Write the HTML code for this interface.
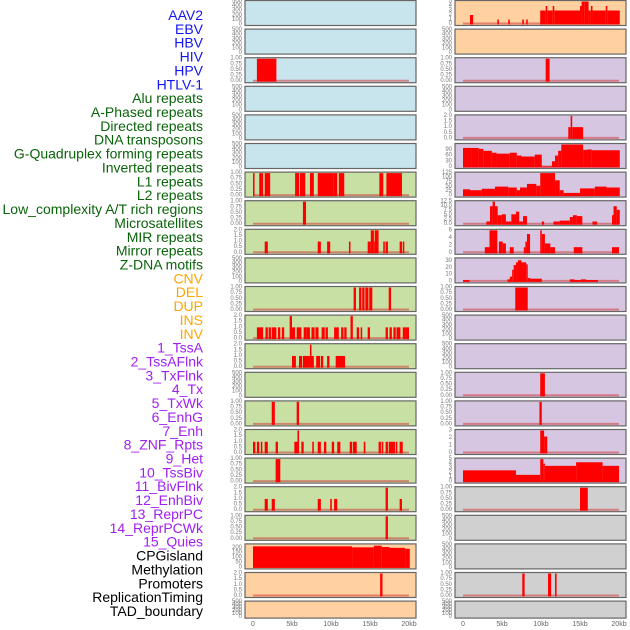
<!DOCTYPE html>
<html><head><meta charset="utf-8">
<style>
html,body{margin:0;padding:0;background:#fff;}
svg{display:block;font-family:"Liberation Sans",sans-serif;}
</style></head>
<body>
<svg id="chart" width="630" height="630" viewBox="0 0 630 630"></svg>
<script>
const trackLabels = ["AAV2","EBV","HBV","HIV","HPV","HTLV-1","Alu repeats","A-Phased repeats","Directed repeats","DNA transposons","G-Quadruplex forming repeats","Inverted repeats","L1 repeats","L2 repeats","Low_complexity A/T rich regions","Microsatellites","MIR repeats","Mirror repeats","Z-DNA motifs","CNV","DEL","DUP","INS","INV","1_TssA","2_TssAFlnk","3_TxFlnk","4_Tx","5_TxWk","6_EnhG","7_Enh","8_ZNF_Rpts","9_Het","10_TssBiv","11_BivFlnk","12_EnhBiv","13_ReprPC","14_ReprPCWk","15_Quies","CPGisland","Methylation","Promoters","ReplicationTiming","TAD_boundary"];
const labelColors = ["#1515f0","#1515f0","#1515f0","#1515f0","#1515f0","#1515f0","#0a640a","#0a640a","#0a640a","#0a640a","#0a640a","#0a640a","#0a640a","#0a640a","#0a640a","#0a640a","#0a640a","#0a640a","#0a640a","#ffa500","#ffa500","#ffa500","#ffa500","#ffa500","#a020f0","#a020f0","#a020f0","#a020f0","#a020f0","#a020f0","#a020f0","#a020f0","#a020f0","#a020f0","#a020f0","#a020f0","#a020f0","#a020f0","#a020f0","#000","#000","#000","#000","#000"];
const xTicks = [0,5,10,15,20];
const xTickLabels = ["0","5kb","10kb","15kb","20kb"];
const emptyTicks = [0,100,200,300,400,500];
const t1 = [0,0.25,0.5,0.75,1.0];
const t1Labels = ["0.00","0.25","0.50","0.75","1.00"];
const t2 = [0,0.5,1,1.5,2];
const t2Labels = ["0.0","0.5","1.0","1.5","2.0"];
const leftBg = ["#c8e4ec","#c8e4ec","#c8e4ec","#c8e4ec","#c8e4ec","#c8e4ec","#c8e0a4","#c8e0a4","#c8e0a4","#c8e0a4","#c8e0a4","#c8e0a4","#c8e0a4","#c8e0a4","#c8e0a4","#c8e0a4","#c8e0a4","#c8e0a4","#c8e0a4","#ffd0a0","#ffd0a0","#ffd0a0"];
const rightBg = ["#ffd0a0","#ffd0a0","#d6c6e2","#d6c6e2","#d6c6e2","#d6c6e2","#d6c6e2","#d6c6e2","#d6c6e2","#d6c6e2","#d6c6e2","#d6c6e2","#d6c6e2","#d6c6e2","#d6c6e2","#d6c6e2","#d6c6e2","#d0d0d0","#d0d0d0","#d0d0d0","#d0d0d0","#d0d0d0"];

// segments: [startKb, endKb, value]
const segL2 = [[0.5,3.0,1]];
const segL6 = [[0,0.2,1],[0.8,1.3,1],[1.5,2.2,1],[5.4,5.9,1],[6.0,6.7,1],[7.3,7.8,1],[8.3,10.3,1],[10.3,10.8,1],[11.0,11.7,1],[16.2,16.7,1],[17.1,19.1,1]];
const segL7 = [[6.4,6.8,1]];
const segL8 = [[1.5,1.9,1],[8.3,8.7,1],[9.5,9.9,1],[12.3,12.5,1],[14.7,15.1,1],[15.1,15.5,2],[15.5,15.6,1],[15.6,16.1,2],[16.7,16.9,1],[17.0,17.3,1],[18.8,19.1,1],[19.2,19.4,1]];
const segL10 = [[12.9,13.2,1],[13.6,13.9,1],[14.0,14.3,1],[14.4,14.8,1],[14.9,15.3,1],[17.4,17.7,1]];
const segL11 = [[0.5,1.3,1],[1.6,1.9,1],[2.0,2.3,1],[2.4,3.0,1],[3.2,3.5,1],[3.7,4.0,1],[4.7,5.0,2],[5.0,5.4,1],[5.6,6.2,1],[6.5,6.9,1],[6.9,7.3,1],[7.5,7.9,1],[8.0,8.4,1],[8.8,9.2,1],[9.3,9.6,1],[10.4,11.0,1],[11.3,11.6,1],[11.7,12.0,1],[12.5,12.8,2],[13.3,13.6,1],[13.8,14.0,1],[14.7,15.0,1],[17.0,17.3,1],[17.5,17.8,1],[18.0,18.3,1],[18.4,18.9,1],[19.2,19.6,1],[19.6,20.0,1]];
const segL12 = [[5.0,5.5,1],[5.9,6.3,1],[6.4,7.3,1],[7.3,7.5,2],[7.5,7.8,1],[8.1,8.6,1],[8.7,9.0,1],[9.5,9.8,1],[10.6,11.8,1]];
const segL14 = [[2.4,2.8,1],[5.6,5.9,1]];
const segL15 = [[0.0,0.3,1],[0.5,0.8,1],[1.0,1.2,1],[1.5,1.9,1],[2.9,3.2,1],[5.3,5.7,1],[5.7,5.9,2],[6.2,6.5,1],[7.6,7.8,1],[8.3,8.7,1],[9.1,9.4,1],[10.1,10.4,1],[10.8,11.2,1],[12.4,12.7,1],[12.8,13.3,1],[14.2,14.4,1],[16.1,16.4,1],[16.5,16.7,1],[17.0,17.3,1],[17.4,18.2,1],[18.3,18.5,1],[18.8,19.2,1]];
const segL16 = [[2.9,3.5,1]];
const segL17 = [[1.5,1.9,1],[2.4,2.8,1],[8.3,8.7,1],[9.9,10.1,1],[10.4,10.8,1],[17.0,17.3,2],[18.8,19.1,1]];
const segL18 = [[17.0,17.3,1]];
const segL19 = [[0,12.7,215],[12.7,15.5,205],[15.5,16.5,222],[16.5,17.5,208],[17.5,19.5,200],[19.5,20.1,190]];
const segL20 = [[16.3,16.6,2]];

const segR0 = [[0.9,1.3,2],[4.4,4.6,1],[5.8,6.0,1],[7.6,7.8,1],[8.1,8.3,1],[9.9,10.6,3],[10.6,10.8,4],[10.8,11.5,3],[11.5,11.7,4],[11.7,15.0,3],[15.0,15.2,4],[15.2,15.6,5],[15.6,16.1,5],[16.1,16.4,3],[16.4,16.6,4],[16.6,18.3,3],[18.3,18.5,4],[18.5,20.1,3]];
const segR2 = [[10.6,11.1,1]];
const segR4 = [[13.5,13.8,1],[13.8,14.0,2],[14.0,15.4,1]];
const segR5 = [[0,1.1,100],[1.1,2,100],[2,2.6,95],[2.6,3.7,85],[3.7,4.3,75],[4.3,6,70],[6,6.9,75],[6.9,7.5,60],[7.5,9.2,55],[9.2,10.1,65],[10.1,11.4,3],[11.4,11.8,30],[11.8,12.2,60],[12.2,12.6,85],[12.6,15.4,118],[15.4,15.9,90],[15.9,16.5,92],[16.5,20.1,88]];
const segR6 = [[0,0.9,35],[0.9,2.4,30],[2.4,4.1,38],[4.1,5.8,50],[5.8,6.9,45],[6.9,7.3,30],[7.3,8.2,45],[8.2,9.4,65],[9.4,9.9,55],[9.9,11.8,125],[11.8,12.4,85],[12.4,12.9,30],[12.9,15.0,15],[15.0,16.9,40],[16.9,18.4,50],[18.4,20.1,45]];
const segR7 = [[3.0,3.46,1.5],[3.46,3.8,10],[3.8,4.1,12.5],[4.1,4.45,10],[4.45,4.96,5],[4.96,5.5,5.5],[5.5,6.2,1.5],[6.2,6.8,5.5],[6.8,7.2,7],[7.2,7.7,1.5],[7.7,8.2,4.5],[10.1,10.4,1.5],[11.6,12.4,1.5],[12.4,13.7,2],[13.7,14.1,4],[14.1,14.6,5],[14.6,15.3,4.5],[16.6,17.2,1.5],[19.1,19.3,5],[19.3,19.7,10],[19.7,20.1,8]];
const segR8 = [[2.8,3.4,1.5],[3.4,4.4,6],[4.6,5.1,3],[5.1,5.5,2.5],[6.0,6.5,1.5],[7.8,8.0,1.5],[8.0,8.2,3],[8.2,8.6,5],[9.9,10.1,6],[10.1,10.5,5],[10.5,11.2,2.5],[11.2,11.8,1.5],[14.2,15.3,1.5],[19.1,20.0,1.5]];
const segR9 = [[0,0.84,2],[5.7,6.0,3],[6.0,6.3,7],[6.3,6.5,17],[6.5,6.8,24],[6.8,7.05,28],[7.05,7.5,31],[7.5,8.1,28],[8.1,8.3,25],[8.3,8.6,5],[8.6,10.1,4],[13.7,14.3,3],[14.3,15.1,2],[15.1,15.8,3],[15.8,17.3,2]];
const segR10 = [[6.7,8.3,1]];
const segR13 = [[9.9,10.5,1]];
const segR14 = [[9.8,10.1,1]];
const segR15 = [[9.9,10.4,3],[10.4,10.8,2.2]];
const segR16 = [[0,6.8,2.5],[6.8,9.9,1.5],[9.9,10.3,5],[10.3,10.5,4],[10.5,14.5,3.5],[14.5,17.9,4.3],[17.9,20.0,3.5]];
const segR17 = [[15.0,16.0,1]];
const segR20 = [[7.6,7.9,1],[10.9,11.3,1],[11.8,12.0,1]];

const svg = document.getElementById('chart');
const NS = 'http://www.w3.org/2000/svg';
function mk(tag, attrs, parent){
  const e = document.createElementNS(NS, tag);
  for (const k in attrs) e.setAttribute(k, attrs[k]);
  (parent||svg).appendChild(e);
  return e;
}

// labels
trackLabels.forEach((t,i)=>{
  const e = mk('text',{x:203,y:15+13.86*i,'text-anchor':'end','dominant-baseline':'central','font-size':14,fill:labelColors[i]});
  
  
  e.textContent = t;
});

function rowTop(i){ return 0.5 + 28.6*i; }
function rowH(i){ return i===21 ? 17 : 25; }

// panel definition: [segments, tickValues, tickLabels, ymax]
const L = {}, R = {};
L[2]=[segL2,t1,t1Labels,1]; L[6]=[segL6,t1,t1Labels,1]; L[7]=[segL7,t1,t1Labels,1];
L[8]=[segL8,t2,t2Labels,2]; L[10]=[segL10,t1,t1Labels,1]; L[11]=[segL11,t2,t2Labels,2];
L[12]=[segL12,t2,t2Labels,2]; L[14]=[segL14,t1,t1Labels,1]; L[15]=[segL15,t2,t2Labels,2];
L[16]=[segL16,t1,t1Labels,1]; L[17]=[segL17,t2,t2Labels,2]; L[18]=[segL18,t1,t1Labels,1];
L[19]=[segL19,[0,50,100,150,200],["0","50","100","150","200"],230]; L[20]=[segL20,t2,t2Labels,2];
R[0]=[segR0,[0,1,2,3,4,5],["0","1","2","3","4","5"],5]; R[2]=[segR2,t1,t1Labels,1];
R[4]=[segR4,t2,t2Labels,2]; R[5]=[segR5,[0,30,60,90],["0","30","60","90"],118];
R[6]=[segR6,[0,25,50,75,100,125],["0","25","50","75","100","125"],125];
R[7]=[segR7,[0,2.5,5,7.5,10,12.5],["0.0","2.5","5.0","7.5","10.0","12.5"],12.5];
R[8]=[segR8,[0,2,4,6],["0","2","4","6"],6]; R[9]=[segR9,[0,10,20,30],["0","10","20","30"],33];
R[10]=[segR10,t1,t1Labels,1]; R[13]=[segR13,t1,t1Labels,1]; R[14]=[segR14,t1,t1Labels,1];
R[15]=[segR15,[0,1,2,3],["0","1","2","3"],3]; R[16]=[segR16,[0,1,2,3,4,5],["0","1","2","3","4","5"],5];
R[17]=[segR17,t1,t1Labels,1]; R[20]=[segR20,t1,t1Labels,1];

function drawPanel(side, row){
  const px = side==='L' ? 245 : 455;
  const x0 = side==='L' ? 253 : 463;
  const xs = kb => x0 + kb*7.8;
  const top = rowTop(row), h = rowH(row);
  const bg = side==='L' ? leftBg[row] : rightBg[row];
  const g = mk('g',{});
  
  
  mk('rect',{x:px,y:top,width:171,height:h,fill:bg},g);
  const def = (side==='L'?L:R)[row];
  const y0 = top + h - 1.5, y1 = top + 1;
  if (def){
    const [segs,tv,tl,ymax] = def;
    const ys = v => y0 - (v/ymax)*(y0-y1);
    tv.forEach((v,k)=>{
      const t = mk('text',{x:px-3,y:ys(v),'text-anchor':'end','dominant-baseline':'central','font-size':6,fill:'#777'},g);
      
      
      t.textContent = tl[k];
    });
    mk('line',{x1:xs(0),x2:xs(20),y1:y0-0.5,y2:y0-0.5,stroke:'rgba(210,60,60,0.55)','stroke-width':2},g);
    segs.forEach(s=>{
      const b = mk('rect',{x:xs(s[0]),y:ys(s[2]),width:Math.max(0.8,xs(s[1])-xs(s[0])),height:y0-ys(s[2])+0.5,fill:'#ff0000'},g);
      
      
    });
  } else {
    const ys = v => (top+h-1) - (v/500)*(h-2);
    emptyTicks.forEach(v=>{
      const t = mk('text',{x:px-3,y:ys(v),'text-anchor':'end','dominant-baseline':'central','font-size':6,fill:'#777'},g);
      
      
      t.textContent = String(v);
    });
  }
  mk('rect',{x:px,y:top,width:171,height:h,fill:'none',stroke:'#666','stroke-width':1.2},g);
}
for (let r=0;r<22;r++){ drawPanel('L',r); drawPanel('R',r); }

// x axes
[253,463].forEach(x0=>{
  xTicks.forEach((v,k)=>{
    const t = mk('text',{x:x0+v*7.8,y:626,'text-anchor':'middle','font-size':7,fill:'#666'});
    
    
    t.textContent = xTickLabels[k];
  });
});
</script>
</body></html>
